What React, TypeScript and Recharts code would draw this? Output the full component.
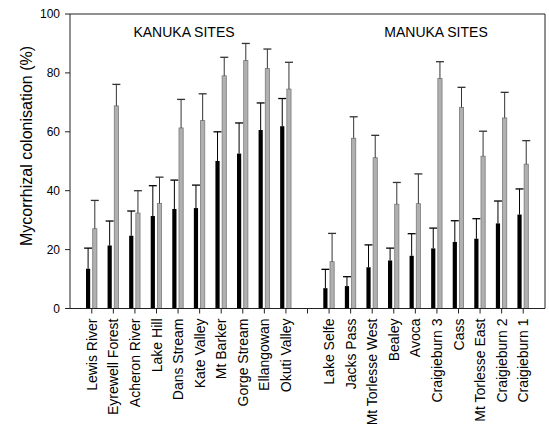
import React from 'react';
import { BarChart, Bar, XAxis, YAxis, ReferenceLine } from 'recharts';

// sites: 10 kanuka, a spacer, 10 manuka
const sites = [
  'Lewis River', 'Eyrewell Forest', 'Acheron River', 'Lake Hill', 'Dans Stream',
  'Kate Valley', 'Mt Barker', 'Gorge Stream', 'Ellangowan', 'Okuti Valley',
  '',
  'Lake Selfe', 'Jacks Pass', 'Mt Torlesse West', 'Bealey', 'Avoca',
  'Craigieburn 3', 'Cass', 'Mt Torlesse East', 'Craigieburn 2', 'Craigieburn 1',
];

const blackMean = [13.5, 21.4, 24.7, 31.4, 33.8, 34.1, 50.1, 52.6, 60.6, 61.9, null, 6.9, 7.6, 14.0, 16.3, 17.9, 20.4, 22.6, 23.7, 28.9, 31.9];
const blackErr = [7.0, 8.3, 8.4, 10.3, 9.8, 7.8, 9.9, 10.4, 9.2, 9.4, null, 6.4, 3.2, 7.6, 4.2, 7.5, 6.9, 7.2, 6.8, 7.6, 8.7];
const greyMean = [27.1, 68.8, 32.4, 35.7, 61.3, 63.8, 79.0, 84.2, 81.5, 74.5, null, 15.9, 57.8, 51.2, 35.4, 35.6, 78.1, 68.3, 51.7, 64.7, 49.0];
const greyErr = [9.6, 7.3, 7.6, 8.9, 9.7, 9.1, 6.3, 5.8, 6.6, 9.1, null, 9.6, 7.3, 7.6, 7.4, 10.1, 5.7, 6.8, 8.5, 8.7, 8.0];

const yTicks = [0, 20, 40, 60, 80, 100];

const data = sites.map((site, i) => ({
  site,
  black: blackMean[i],
  blackErr: blackErr[i],
  grey: greyMean[i],
  greyErr: greyErr[i],
}));

const font = 'Arial, "Liberation Sans", sans-serif';

// bar + upper error whisker, using the bar's own pixel scale
const whiskerBar = (key: string, errKey: string, fill: string, stroke: string, line: string) => (props: any) => {
  const { x, y, width, height, payload } = props;
  const v = payload[key];
  if (v == null || !height) return <g />;
  const ey = y - (payload[errKey] / v) * height;
  const cx = x + width / 2;
  return (
    <g>
      <rect x={x} y={y} width={width} height={height} fill={fill} stroke={stroke} strokeWidth={stroke === 'none' ? 0 : 0.8} />
      <line x1={cx} y1={y} x2={cx} y2={ey} stroke={line} strokeWidth={1} />
      <line x1={cx - 4} y1={ey} x2={cx + 4} y2={ey} stroke={line} strokeWidth={1.3} />
    </g>
  );
};

const SiteTick = (props: any) => {
  const { x, y, payload } = props;
  return (
    <g transform={`translate(${x},${y})`}>
      <text transform="rotate(-90)" x={-3} y={0} dy={5} textAnchor="end" fontSize={14} fill="#000" fontFamily={font}>
        {payload.value}
      </text>
    </g>
  );
};

const App: React.FC = () => {
  return (
    <div style={{ position: 'absolute', left: 0, top: 0, width: 549, height: 426, background: '#fff', fontFamily: font }}>
      <BarChart
        width={549}
        height={426}
        data={data}
        margin={{ top: 14, right: 3, bottom: 0, left: 10 }}
        barSize={4.2}
        barGap={2.5}
      >
        <XAxis
          dataKey="site"
          interval={0}
          height={117.5}
          padding={{ left: 11, right: 11 }}
          tick={<SiteTick />}
          tickSize={5}
          axisLine={{ stroke: '#222' }}
          tickLine={{ stroke: '#222' }}
        />
        <YAxis
          domain={[0, 100]}
          ticks={yTicks}
          width={60}
          tickSize={5}
          tickMargin={5}
          axisLine={{ stroke: '#222' }}
          tickLine={{ stroke: '#222' }}
          tick={{ fontSize: 12, fill: '#000', fontFamily: font }}
          label={{
            content: () => (
              <text x={26} y={146} transform="rotate(-90 26 146)" textAnchor="middle" dominantBaseline="central" fontSize={16} fill="#000" fontFamily={font}>
                Mycorrhizal colonisation (%)
              </text>
            ),
          }}
        />
        <YAxis yAxisId="right" orientation="right" width={1} domain={[0, 100]} tick={false} tickLine={false} axisLine={{ stroke: '#222' }} />
        <ReferenceLine y={100} stroke="#222" />
        <Bar dataKey="black" isAnimationActive={false} shape={whiskerBar('black', 'blackErr', '#000', 'none', '#000')} />
        <Bar dataKey="grey" isAnimationActive={false} shape={whiskerBar('grey', 'greyErr', '#b0b0b0', '#7a7a7a', '#333')} />
      </BarChart>
      <div style={{ position: 'absolute', left: 184, top: 32, transform: 'translate(-50%, -50%)', fontSize: 14, whiteSpace: 'nowrap' }}>KANUKA SITES</div>
      <div style={{ position: 'absolute', left: 436, top: 32, transform: 'translate(-50%, -50%)', fontSize: 14, whiteSpace: 'nowrap' }}>MANUKA SITES</div>
    </div>
  );
};

export default App;
